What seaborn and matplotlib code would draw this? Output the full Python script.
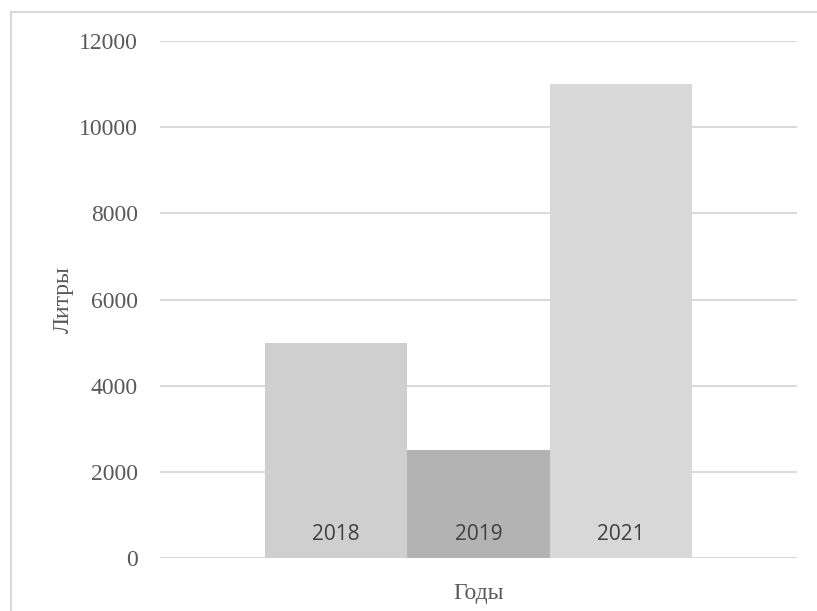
import pandas as pd
import matplotlib.pyplot as plt
import seaborn as sns
from matplotlib.lines import Line2D

# Data
years = ["2018", "2019", "2021"]
litres = [5000, 2500, 11000]
colors = ["#d0cfd0", "#b3b3b3", "#d8d8d8"]

df = pd.DataFrame({"year": years, "litres": litres})

sns.set_style("white")
plt.rcParams["font.family"] = ["Liberation Serif", "DejaVu Serif"]

fig = plt.figure(figsize=(8.17, 6.11), dpi=100)
ax = fig.add_axes([0.1958, 0.0867, 0.7797, 0.8462])

sns.barplot(data=df, x="year", y="litres", hue="year", palette=colors,
            width=1.0, legend=False, saturation=1, linewidth=0, ax=ax)

# data labels at bar base
for i, y in enumerate(years):
    ax.annotate(y, xy=(i, 0), xytext=(0, 17), textcoords="offset points",
                ha="center", va="center", fontsize=15, color="#404040",
                family=["Open Sans", "DejaVu Sans"])

ax.set_xlim(-1.24, 3.24)
ax.set_ylim(0, 12000)
ax.set_yticks(range(0, 12001, 2000))
ax.set_xticks([])
ax.yaxis.grid(True, color="#d9d9d9", linewidth=1.4)
ax.set_axisbelow(True)
for s in ax.spines.values():
    s.set_visible(False)
ax.axhline(0, color="#d9d9d9", linewidth=1.8, zorder=0)

ax.tick_params(axis="y", length=0, pad=16, labelsize=17, labelcolor="#595959")
ax.set_xlabel("Годы", fontsize=17, color="#595959", labelpad=18)
ax.set_ylabel("Литры", fontsize=17, color="#595959", labelpad=4)

# chart border (left and top only visible)
bx, by = 10.5 / 817, 1 - 12 / 611
fig.lines.append(Line2D([bx, bx], [0, by], transform=fig.transFigure,
                        color="#d9d9d9", linewidth=1.5))
fig.lines.append(Line2D([bx, 1], [by, by], transform=fig.transFigure,
                        color="#d9d9d9", linewidth=1.5))

fig.savefig("out.png", dpi=100)
